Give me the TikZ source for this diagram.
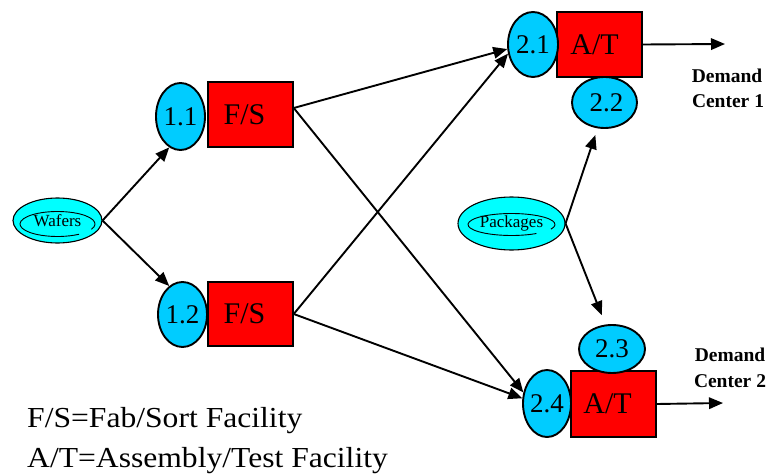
\documentclass[tikz,border=0pt]{standalone}
\usepackage{fontspec}
\usepackage{graphicx}
\setmainfont{Liberation Serif}
\usetikzlibrary{shapes.geometric,arrows.meta}
\definecolor{sitecyan}{RGB}{0,204,255}
\definecolor{srccyan}{RGB}{0,255,255}
\definecolor{facred}{RGB}{255,0,0}
\begin{document}
\begin{tikzpicture}[x=1pt,y=-1pt,
  site/.style={ellipse, draw, line width=1.9pt, fill=sitecyan, inner sep=0pt,
    font=\fontsize{27}{30}\selectfont},
  source/.style={ellipse, draw, line width=1.1pt, fill=srccyan, inner sep=0pt,
    font=\fontsize{17}{20}\selectfont},
  facility/.style={rectangle, draw, line width=1.5pt, fill=facred, inner sep=0pt,
    minimum width=85pt, font=\fontsize{30}{34}\selectfont},
  flow/.style={line width=1.9pt, -{Triangle[length=14pt,width=11.5pt]}},
  demand/.style={anchor=base, inner sep=0pt, font=\bfseries\fontsize{19.5}{23}\selectfont},
  legend/.style={anchor=base west, inner sep=0pt, font=\fontsize{29}{34}\selectfont}]
\useasboundingbox (0,0) rectangle (773,476);

% raw material sources, drawn as ellipses with an inner ring
\node[source, minimum width=89pt, minimum height=45pt] (waf) at (57.5,220.5) {\raisebox{-1.5pt}{Wafers}};
\draw[line width=0.9pt] ([yshift=-3.5pt]waf.center) ++(-25:37.5pt and 12.5pt)
  arc[start angle=-25, end angle=305, x radius=37.5pt, y radius=12.5pt];
\node[source, minimum width=107pt, minimum height=53pt] (pkg) at (511.5,223.5) {\raisebox{-1pt}{Packages}};
\draw[line width=0.9pt] ([yshift=-1pt]pkg.center) ++(-25:43.5pt and 11pt)
  arc[start angle=-25, end angle=305, x radius=43.5pt, y radius=11pt];

% facilities
\node[facility, minimum height=65pt] (fs1) at (250.5,114.5) {F/S\hspace*{12pt}};
\node[facility, minimum height=64pt] (fs2) at (250.5,314) {F/S\hspace*{12pt}};
\node[facility, minimum height=65pt] (at1) at (599.5,44.5) {A/T\hspace*{10pt}};
\node[facility, minimum height=66pt] (at2) at (613.5,404) {A/T\hspace*{12pt}};

% stages
\node[site, minimum width=49pt, minimum height=67pt] (s11) at (180.5,116.5) {1.1};
\node[site, minimum width=49pt, minimum height=65pt] (s12) at (182.5,314.5) {1.2};
\node[site, minimum width=50pt, minimum height=65pt] (s21) at (533,44.5) {2.1};
\node[site, minimum width=65pt, minimum height=51pt] (s22) at (604.5,102.5) {\hspace*{4pt}2.2};
\node[site, minimum width=66pt, minimum height=48pt] (s23) at (612,349) {2.3};
\node[site, minimum width=48pt, minimum height=67pt] (s24) at (547,403.5) {2.4};

% demand centers
\coordinate (out1) at (725,44);
\coordinate (out2) at (723,403);
\node[demand] (dc1a) at (727,83) {Demand};
\node[demand] (dc1b) at (728,108) {Center 1};
\node[demand] (dc2a) at (730,361) {Demand};
\node[demand] (dc2b) at (730,387) {Center 2};

% flows
\draw[flow] (waf.east) -- (s11.250);
\draw[flow] (waf.east) -- (s12.115);
\draw[flow] ([yshift=6.5pt]fs1.east) -- (s21.190);
\draw[flow] ([yshift=6.5pt]fs1.east) -- (s24.155);
\draw[flow] (fs2.east) -- (s21.200);
\draw[flow] (fs2.east) -- (s24.168);
\draw[flow, shorten >=7pt] (pkg.east) -- (s22.255);
\draw[flow, shorten >=10pt] (pkg.east) -- (s23.105);
\draw[flow] (at1.east) -- (out1);
\draw[flow] (at2.east) -- (out2);

% legend
\node[legend] (leg1) at (27,427) {\scalebox{1.09}[1]{F/S=Fab/Sort Facility}};
\node[legend] (leg2) at (27,467) {\scalebox{1.09}[1]{A/T=Assembly/Test Facility}};
\end{tikzpicture}
\end{document}
